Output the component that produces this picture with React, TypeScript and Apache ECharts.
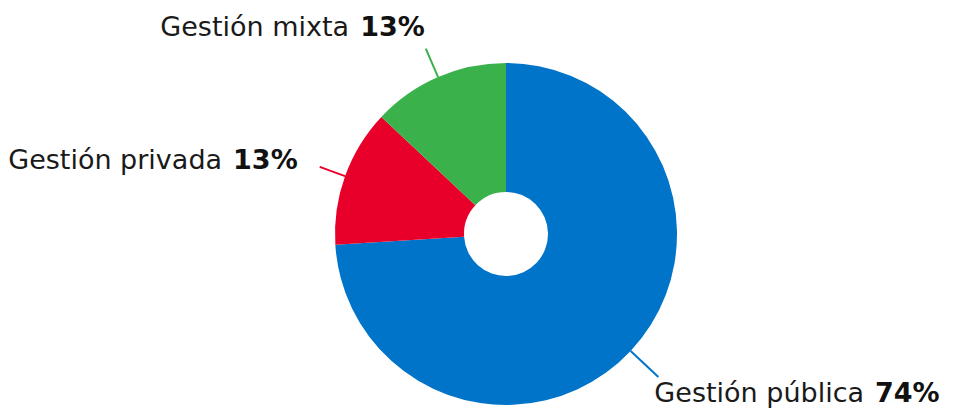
import React, { useEffect, useRef } from "react";
import * as echarts from "echarts";

const categories = ["Gestión pública", "Gestión privada", "Gestión mixta"];
const values = [74, 13, 13];
const colors = ["#0074C9", "#E8002A", "#3AB14B"];
const lineLengths = [38, 27, 31];
const labelShifts = [
  [-14, 15],
  [-12, -7],
  [9, -22],
];

export default function App() {
  const ref = useRef<HTMLDivElement>(null);
  useEffect(() => {
    if (!ref.current) return;
    const chart = echarts.init(ref.current, null, { renderer: "svg" });
    chart.setOption({
      animation: false,
      series: [
        {
          type: "pie",
          center: [506, 234],
          radius: [42, 171],
          startAngle: 90,
          clockwise: true,
          avoidLabelOverlap: false,
          data: categories.map((name, i) => ({
            name,
            value: values[i],
            itemStyle: { color: colors[i] },
            labelLine: { length: lineLengths[i], lineStyle: { color: colors[i], width: 2 } },
          })),
          label: {
            show: true,
            formatter: "{n|{b}}{v|{c}%}",
            distanceToLabelLine: 10,
            rich: {
              n: { fontFamily: "DejaVu Sans", fontSize: 27, color: "#1a1a1a", fontWeight: "normal" },
              v: {
                fontFamily: "DejaVu Sans",
                fontSize: 27,
                color: "#111",
                fontWeight: "bold",
                padding: [0, 0, 0, 11],
              },
            },
          },
          labelLayout: (p: any) => ({ dx: labelShifts[p.dataIndex][0], dy: labelShifts[p.dataIndex][1] }),
          labelLine: { show: true, length2: 0, smooth: false },
        },
      ],
    });
    return () => chart.dispose();
  }, []);
  return (
    <div
      ref={ref}
      style={{ position: "fixed", left: 0, top: 0, width: 955, height: 408, background: "#fff" }}
    />
  );
}
